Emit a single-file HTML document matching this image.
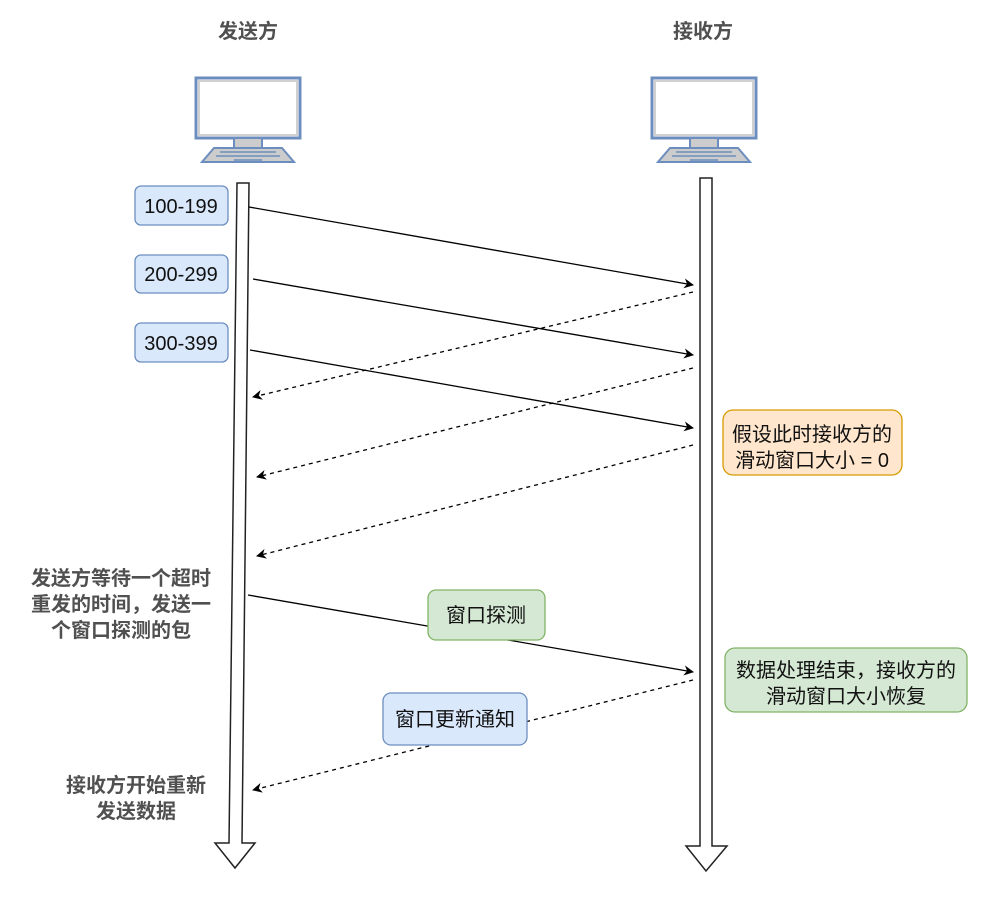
<!DOCTYPE html>
<html><head><meta charset="utf-8"><style>
body{margin:0;background:#fff;}
svg text{font-family:"Liberation Sans","Noto Sans CJK SC",sans-serif;}
</style></head><body>
<svg width="990" height="907" viewBox="0 0 990 907" xmlns="http://www.w3.org/2000/svg">
<defs>
<marker id="a" viewBox="0 0 10 10" refX="9" refY="5" markerWidth="10" markerHeight="10" markerUnits="userSpaceOnUse" orient="auto"><path d="M0,0 L10,5 L0,10 L3,5 Z" fill="#000"/></marker>
</defs>
<g font-weight="bold" font-size="20" fill="#505050" text-anchor="middle">
<text x="248" y="38">发送方</text>
<text x="703" y="38">接收方</text>
</g>
<g id="pc">
<rect x="196" y="78" width="104" height="60" fill="#fff" stroke="#6c8ebf" stroke-width="3"/>
<rect x="199" y="81" width="98" height="54" fill="none" stroke="#d0d0d0" stroke-width="2"/>
<rect x="234" y="138" width="28" height="10" fill="#ccc" stroke="#6c8ebf" stroke-width="2"/>
<path d="M214,148 L282,148 L294,162 L202,162 Z" fill="#ccc" stroke="#6c8ebf" stroke-width="2"/>
<path d="M220,152 H276 M216,156 H280 M234,160 H262" stroke="#6c8ebf" stroke-width="1.5"/>
</g>
<use href="#pc" transform="translate(456,0)"/>
<path d="M237,183 L249,183 L242,843 L255,843 L235,868 L215,843 L229,843 Z" fill="#fff" stroke="#222" stroke-width="1.5"/>
<path d="M700,178 L712,178 L712,846 L727,846 L706,871 L686,846 L700,846 Z" fill="#fff" stroke="#222" stroke-width="1.5"/>
<g stroke="#000" stroke-width="1.3" fill="none">
<line x1="249" y1="207" x2="693" y2="285" marker-end="url(#a)"/>
<line x1="253" y1="279" x2="693" y2="355" marker-end="url(#a)"/>
<line x1="250" y1="350" x2="693" y2="428" marker-end="url(#a)"/>
<line x1="248" y1="595" x2="693" y2="672" marker-end="url(#a)"/>
<g stroke-dasharray="4,4">
<line x1="693" y1="292" x2="253" y2="397" marker-end="url(#a)"/>
<line x1="693" y1="368" x2="257" y2="477" marker-end="url(#a)"/>
<line x1="693" y1="445" x2="257" y2="556" marker-end="url(#a)"/>
<line x1="693" y1="680" x2="253" y2="790" marker-end="url(#a)"/>
</g>
</g>
<g stroke-width="1.3">
<rect x="135" y="186" width="93" height="39" rx="6" fill="#dae8fc" stroke="#6c8ebf"/>
<rect x="135" y="255" width="93" height="38" rx="6" fill="#dae8fc" stroke="#6c8ebf"/>
<rect x="135" y="323" width="93" height="39" rx="6" fill="#dae8fc" stroke="#6c8ebf"/>
<rect x="723" y="410" width="179" height="65" rx="10" fill="#ffe6cc" stroke="#d79b00"/>
<rect x="428" y="590" width="117" height="50" rx="8" fill="#d5e8d4" stroke="#82b366"/>
<rect x="725" y="648" width="242" height="64" rx="10" fill="#d5e8d4" stroke="#82b366"/>
<rect x="383" y="693" width="144" height="52" rx="8" fill="#dae8fc" stroke="#6c8ebf"/>
</g>
<g font-size="20" fill="#111" text-anchor="middle">
<text x="181" y="213">100-199</text>
<text x="181" y="281">200-299</text>
<text x="181" y="350">300-399</text>
<text x="812" y="441">假设此时接收方的</text>
<text x="812" y="467">滑动窗口大小 = 0</text>
<text x="486" y="622">窗口探测</text>
<text x="846" y="677">数据处理结束，接收方的</text>
<text x="846" y="703">滑动窗口大小恢复</text>
<text x="455" y="726">窗口更新通知</text>
</g>
<g font-weight="bold" font-size="20" fill="#505050" text-anchor="middle">
<text x="121" y="585">发送方等待一个超时</text>
<text x="121" y="611">重发的时间，发送一</text>
<text x="121" y="637">个窗口探测的包</text>
<text x="136" y="792">接收方开始重新</text>
<text x="136" y="818">发送数据</text>
</g>
</svg>
</body></html>
